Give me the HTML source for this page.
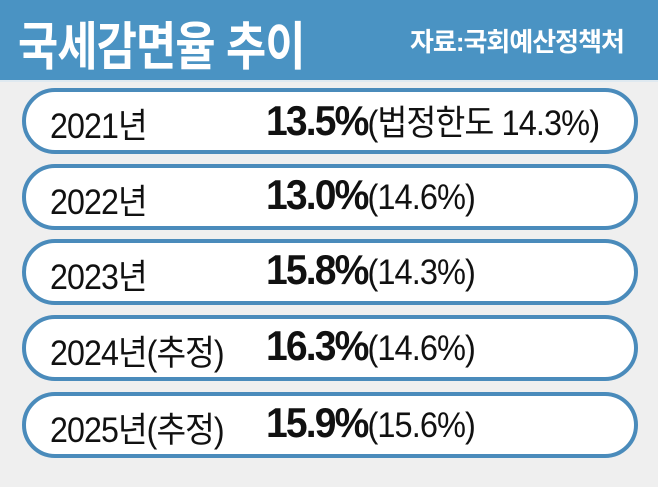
<!DOCTYPE html>
<html><head><meta charset="utf-8"><style>
body{margin:0;width:658px;height:487px;background:#efefef;overflow:hidden;font-family:"Liberation Sans","Noto Sans CJK KR",sans-serif;position:relative}
.hdr{position:absolute;left:0;top:0;width:658px;height:80px;background:#4a93c3;border-bottom:2px solid #dfe9f0}
.t{position:absolute;left:18px;top:5px;color:#fff;font-size:52px;font-weight:bold;transform:scaleX(0.84);transform-origin:left;white-space:nowrap;letter-spacing:-1px}
.s{position:absolute;left:410px;top:22px;color:#fff;font-size:26px;font-weight:bold;transform:scaleX(1.0);transform-origin:left;white-space:nowrap;letter-spacing:-1px}
.p{position:absolute;left:22px;width:608px;height:58px;border:4px solid #4a8bbb;border-radius:34px;background:#fff}
.y{position:absolute;left:24px;top:6px;font-size:35px;color:#111;transform:scaleX(0.92);transform-origin:left;white-space:nowrap;letter-spacing:-1px}
.v{position:absolute;left:240px;top:3px;font-size:35px;color:#111;transform:scaleX(0.93);transform-origin:left;white-space:nowrap;letter-spacing:-1px}
.v b{font-size:42px;letter-spacing:-2px}
</style></head><body>
<div class="hdr"><div class="t">국세감면율 추이</div><div class="s">자료:국회예산정책처</div></div>
<div class="p" style="top:88px"><div class="y">2021년</div><div class="v"><b>13.5%</b>(법정한도 14.3%)</div></div>
<div class="p" style="top:164px"><div class="y">2022년</div><div class="v"><b>13.0%</b>(14.6%)</div></div>
<div class="p" style="top:239px"><div class="y">2023년</div><div class="v"><b>15.8%</b>(14.3%)</div></div>
<div class="p" style="top:315px"><div class="y">2024년(추정)</div><div class="v"><b>16.3%</b>(14.6%)</div></div>
<div class="p" style="top:392px"><div class="y">2025년(추정)</div><div class="v"><b>15.9%</b>(15.6%)</div></div>
</body></html>
